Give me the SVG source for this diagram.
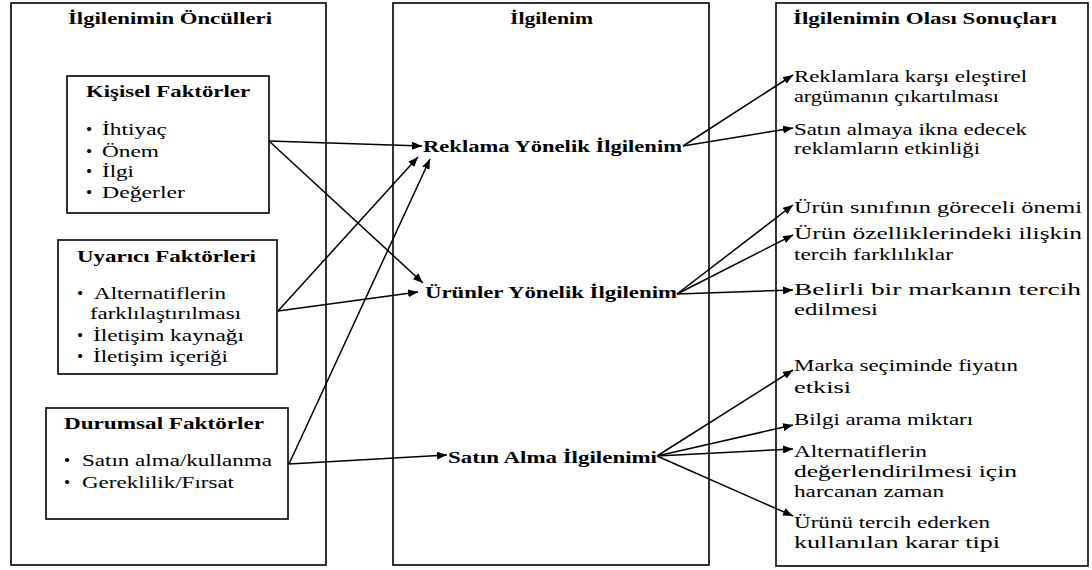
<svg xmlns="http://www.w3.org/2000/svg" width="1092" height="570" viewBox="0 0 1092 570" font-family="Liberation Serif, Times New Roman, DejaVu Serif, serif">
  <style>
    .frame { fill: none; stroke: #000; stroke-width: 1.6; }
    .box { fill: #fff; stroke: #000; stroke-width: 1.6; }
    text { font-size: 17.5px; fill: #000; }
    .b { font-weight: bold; font-size: 17px; }
    .edge { fill: none; stroke: #000; stroke-width: 1.5; marker-end: url(#arrow); }
  </style>
  <defs>
    <marker id="arrow" viewBox="0 0 10 8" refX="10" refY="4" markerWidth="10" markerHeight="8" markerUnits="userSpaceOnUse" orient="auto">
      <path d="M0,0 L10,4 L0,8 Z" fill="#000"/>
    </marker>
  </defs>
  <rect width="1092" height="570" fill="#fff"/>

  <!-- column: antecedents -->
  <g id="antecedents">
    <rect class="frame" x="11" y="3" width="315" height="562"/>
    <text class="b" x="68" y="24" textLength="204" lengthAdjust="spacingAndGlyphs">İlgilenimin  Öncülleri</text>
  </g>

  <g id="kisisel">
    <rect class="box" x="67" y="76" width="202" height="137"/>
    <text class="b" x="86" y="97" textLength="164" lengthAdjust="spacingAndGlyphs">Kişisel Faktörler</text>
    <text><tspan x="86" y="135">•</tspan><tspan x="102" y="135" textLength="65" lengthAdjust="spacingAndGlyphs">İhtiyaç</tspan></text>
    <text><tspan x="86" y="157">•</tspan><tspan x="102" y="157" textLength="57" lengthAdjust="spacingAndGlyphs">Önem</tspan></text>
    <text><tspan x="86" y="177">•</tspan><tspan x="102" y="177" textLength="32" lengthAdjust="spacingAndGlyphs">İlgi</tspan></text>
    <text><tspan x="86" y="198">•</tspan><tspan x="102" y="198" textLength="83" lengthAdjust="spacingAndGlyphs">Değerler</tspan></text>
  </g>

  <g id="uyarici">
    <rect class="box" x="58" y="240" width="219" height="134"/>
    <text class="b" x="77" y="262" textLength="179" lengthAdjust="spacingAndGlyphs">Uyarıcı Faktörleri</text>
    <text><tspan x="77" y="299">•</tspan><tspan x="94" y="299" textLength="132" lengthAdjust="spacingAndGlyphs">Alternatiflerin</tspan></text>
    <text x="90" y="319" textLength="151" lengthAdjust="spacingAndGlyphs">farklılaştırılması</text>
    <text><tspan x="77" y="341">•</tspan><tspan x="93" y="341" textLength="151" lengthAdjust="spacingAndGlyphs">İletişim kaynağı</tspan></text>
    <text><tspan x="77" y="362">•</tspan><tspan x="93" y="362" textLength="135" lengthAdjust="spacingAndGlyphs">İletişim içeriği</tspan></text>
  </g>

  <g id="durumsal">
    <rect class="box" x="46" y="408" width="242" height="111"/>
    <text class="b" x="64" y="429" textLength="200" lengthAdjust="spacingAndGlyphs">Durumsal Faktörler</text>
    <text><tspan x="64" y="466">•</tspan><tspan x="82" y="466" textLength="190" lengthAdjust="spacingAndGlyphs">Satın alma/kullanma</tspan></text>
    <text><tspan x="64" y="488">•</tspan><tspan x="82" y="488" textLength="152" lengthAdjust="spacingAndGlyphs">Gereklilik/Fırsat</tspan></text>
  </g>

  <!-- column: involvement -->
  <g id="ilgilenim">
    <rect class="frame" x="393" y="3" width="316" height="562"/>
    <text class="b" x="510" y="24" textLength="83" lengthAdjust="spacingAndGlyphs">İlgilenim</text>
  </g>
  <g id="reklama">
    <text class="b" x="423" y="152" textLength="259" lengthAdjust="spacingAndGlyphs">Reklama Yönelik İlgilenim</text>
  </g>
  <g id="urunler">
    <text class="b" x="425" y="298" textLength="252" lengthAdjust="spacingAndGlyphs">Ürünler Yönelik İlgilenim</text>
  </g>
  <g id="satin-alma">
    <text class="b" x="448" y="463" textLength="209" lengthAdjust="spacingAndGlyphs">Satın Alma İlgilenimi</text>
  </g>

  <!-- column: outcomes -->
  <g id="sonuclar">
    <rect class="frame" x="776" y="3" width="312" height="563"/>
    <text class="b" x="793" y="24" textLength="264" lengthAdjust="spacingAndGlyphs">İlgilenimin  Olası Sonuçları</text>
  </g>
  <g id="s1">
    <text x="794" y="82" textLength="233" lengthAdjust="spacingAndGlyphs">Reklamlara karşı eleştirel</text>
    <text x="794" y="102" textLength="205" lengthAdjust="spacingAndGlyphs">argümanın çıkartılması</text>
  </g>
  <g id="s2">
    <text x="794" y="135" textLength="233" lengthAdjust="spacingAndGlyphs">Satın almaya ikna edecek</text>
    <text x="794" y="154" textLength="186" lengthAdjust="spacingAndGlyphs">reklamların etkinliği</text>
  </g>
  <g id="s3">
    <text x="794" y="213" textLength="288" lengthAdjust="spacingAndGlyphs">Ürün sınıfının göreceli önemi</text>
  </g>
  <g id="s4">
    <text x="794" y="239" textLength="288" lengthAdjust="spacingAndGlyphs">Ürün özelliklerindeki ilişkin</text>
    <text x="794" y="260" textLength="159" lengthAdjust="spacingAndGlyphs">tercih farklılıklar</text>
  </g>
  <g id="s5">
    <text x="794" y="295" textLength="287" lengthAdjust="spacingAndGlyphs">Belirli bir markanın tercih</text>
    <text x="794" y="315" textLength="84" lengthAdjust="spacingAndGlyphs">edilmesi</text>
  </g>
  <g id="s6">
    <text x="794" y="371" textLength="224" lengthAdjust="spacingAndGlyphs">Marka seçiminde fiyatın</text>
    <text x="794" y="393" textLength="57" lengthAdjust="spacingAndGlyphs">etkisi</text>
  </g>
  <g id="s7">
    <text x="794" y="425" textLength="179" lengthAdjust="spacingAndGlyphs">Bilgi arama miktarı</text>
  </g>
  <g id="s8">
    <text x="794" y="457" textLength="133" lengthAdjust="spacingAndGlyphs">Alternatiflerin</text>
    <text x="794" y="477" textLength="223" lengthAdjust="spacingAndGlyphs">değerlendirilmesi için</text>
    <text x="794" y="497" textLength="150" lengthAdjust="spacingAndGlyphs">harcanan zaman</text>
  </g>
  <g id="s9">
    <text x="794" y="528" textLength="196" lengthAdjust="spacingAndGlyphs">Ürünü tercih ederken</text>
    <text x="794" y="548" textLength="206" lengthAdjust="spacingAndGlyphs">kullanılan karar tipi</text>
  </g>

  <!-- connectors -->
  <g id="connectors">
    <line class="edge" x1="269" y1="141" x2="422" y2="146"/>
    <line class="edge" x1="269" y1="141" x2="423" y2="283"/>
    <line class="edge" x1="278" y1="311" x2="418" y2="157"/>
    <line class="edge" x1="278" y1="311" x2="418" y2="292"/>
    <line class="edge" x1="289" y1="464" x2="430" y2="159"/>
    <line class="edge" x1="289" y1="464" x2="447" y2="455"/>

    <line class="edge" x1="683" y1="146" x2="793" y2="75"/>
    <line class="edge" x1="683" y1="146" x2="793" y2="128"/>
    <line class="edge" x1="677" y1="294" x2="793" y2="205"/>
    <line class="edge" x1="677" y1="294" x2="793" y2="235"/>
    <line class="edge" x1="677" y1="294" x2="793" y2="290"/>
    <line class="edge" x1="657" y1="456" x2="793" y2="370"/>
    <line class="edge" x1="657" y1="456" x2="793" y2="425"/>
    <line class="edge" x1="657" y1="456" x2="793" y2="449"/>
    <line class="edge" x1="657" y1="456" x2="793" y2="516"/>
  </g>
</svg>
